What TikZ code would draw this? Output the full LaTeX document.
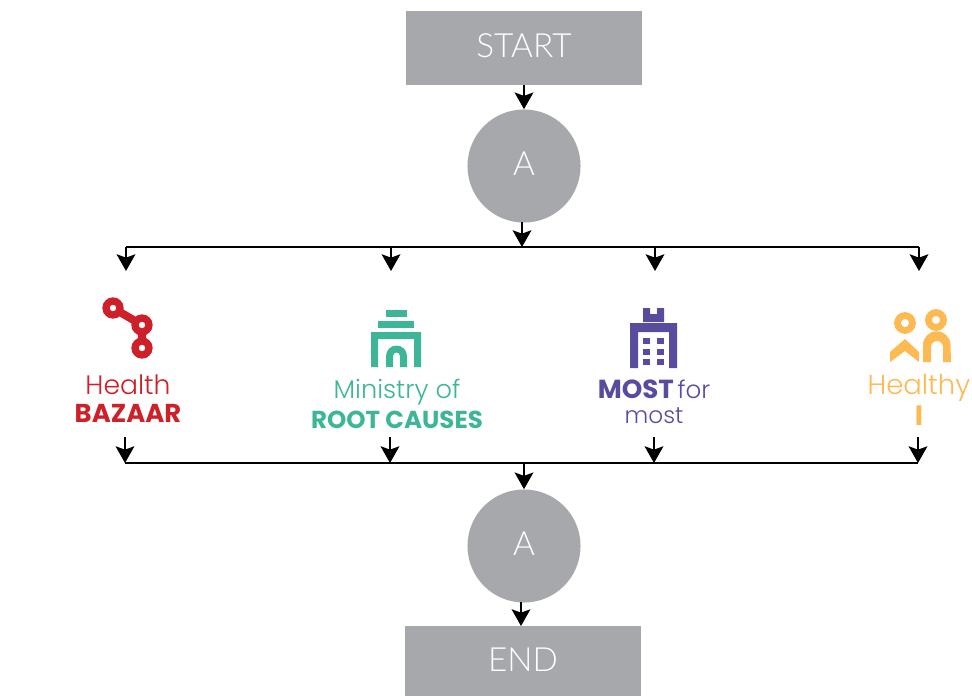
\documentclass[tikz,border=0pt]{standalone}
\usepackage{fontspec}
\usetikzlibrary{arrows.meta}
\setmainfont{Liberation Sans}
\newfontfamily\logofont{Poppins Light}[BoldFont=Poppins Bold]
\newfontfamily\boxfont{Lato Light}
\definecolor{boxgray}{HTML}{A7A8AB}
\definecolor{bazaarred}{HTML}{CE2029}
\definecolor{rootteal}{HTML}{3DB698}
\definecolor{mostpurple}{HTML}{574C9E}
\definecolor{healthyyellow}{HTML}{FDBA53}
\tikzset{
  boxnode/.style={fill=boxgray,text=white,minimum width=176.5pt,inner sep=0pt,text depth=4pt,font=\boxfont\fontsize{25}{28}\selectfont},
  roundnode/.style={circle,fill=boxgray,text=white,minimum size=84.8pt,inner sep=0pt,text depth=3pt,font=\boxfont\fontsize{25}{28}\selectfont},
  flow/.style={-{Stealth[length=12.5pt,width=14pt,inset=2.5pt]},line width=1.7pt,black},
  bus/.style={line width=1.7pt,black},
  lighttext/.style={font=\logofont\fontsize{19.2}{21}\selectfont,inner sep=0pt},
  boldtext/.style={font=\logofont\bfseries\fontsize{18.4}{21}\selectfont,inner sep=0pt},
}
\begin{document}
\begin{tikzpicture}[x=0.75pt,y=-0.75pt]
        \useasboundingbox (0,0) rectangle (972,696);

        \node[boxnode,minimum height=55.5pt] (start) at (524,48) {START};
        \node[roundnode] (upper) at (524,166) {A};
        \node[roundnode] (lower) at (524,546) {A};
        \node[boxnode,minimum height=52.5pt,text depth=2pt] (finish) at (523,661) {END};

        \coordinate (busTL) at (126,247);
        \coordinate (busTR) at (919,247);
        \coordinate (busBL) at (125,463);
        \coordinate (busBR) at (918,463);
        \coordinate (busTM) at (522,247);
        \coordinate (upperOut) at (522,222);
        \coordinate (busBM) at (524,463);
        \coordinate (lowerOut) at (521,602);
        \coordinate (finishIn) at (521,626);

        \draw[bus] (busTL) -- (busTR);
        \draw[bus] (busBL) -- (busBR);
        \draw[flow] (start.south) -- (upper.north);
        \draw[flow] (upperOut) -- (busTM);
        \draw[flow] (busBM) -- (lower.north);
        \draw[flow] (lowerOut) -- (finishIn);

        % drops from the top line, arrows into the bottom line
        \foreach \n/\x in {1/126,2/391,3/655,4/919}{
                \coordinate (top\n) at (\x,247);
                \coordinate (drop\n) at (\x,271);
                \draw[flow] (top\n) -- (drop\n);
                \coordinate (rise\n) at (\x-1,437);
                \coordinate (bot\n) at (\x-1,463);
                \draw[flow] (rise\n) -- (bot\n);
        }

        % Health BAZAAR
        \coordinate (hbA) at (113,308);
        \coordinate (hbB) at (142,325);
        \coordinate (hbC) at (142,348);
        \draw[bazaarred,line width=6pt] (hbA) -- (hbB) -- (hbC);
        \foreach \P in {hbA,hbB,hbC}{
                \fill[bazaarred] (\P) circle (8pt);
                \fill[white] (\P) circle (2.4pt);
        }
        \node[lighttext,text=bazaarred,font=\logofont\fontsize{20}{21}\selectfont] (health) at (128,385) {Health};
        \node[boldtext,text=bazaarred,font=\logofont\bfseries\fontsize{19.4}{21}\selectfont] (bazaar) at (128,413) {BAZAAR};

        % Ministry of ROOT CAUSES
        \fill[rootteal] (386,310) rectangle (407,317);
        \fill[rootteal] (378,321) rectangle (414,328);
        \fill[rootteal] (371,332) -- (421,332) -- (421,367) -- (414,367) -- (414,339) -- (378,339) -- (378,367) -- (371,367) -- cycle;
        \fill[rootteal] (386,367) -- (386,356) arc (180:360:10.5) -- (407,367) -- (400,367) -- (400,356) arc (360:180:3.5) -- (393,367) -- cycle;
        \node[lighttext,text=rootteal] (ministry) at (397,392) {Ministry of};
        \node[boldtext,text=rootteal] (root) at (397,420) {ROOT CAUSES};

        % MOST for most
        \fill[mostpurple] (643,308) -- (650,308) -- (650,314) -- (657,314) -- (657,308) -- (664,308) -- (664,322) -- (643,322) -- cycle;
        \fill[mostpurple] (630,323) -- (677,323) -- (677,368) -- (669,368) -- (669,332) -- (638,332) -- (638,368) -- (630,368) -- cycle;
        \foreach \wy in {338,349,359}{
                \fill[mostpurple] (643,\wy) rectangle (650,\wy+6);
                \fill[mostpurple] (657,\wy) rectangle (664,\wy+6);
        }
        \node[inner sep=0pt,text=mostpurple] (most) at (654,389) {{\logofont\bfseries\fontsize{19.6}{21}\selectfont MOST} {\logofont\fontsize{18.4}{21}\selectfont for}};
        \node[lighttext,text=mostpurple,font=\logofont\fontsize{17.4}{21}\selectfont] (mostb) at (654,416) {most};

        % Healthy I
        \coordinate (hiA) at (905,323);
        \coordinate (hiB) at (936,320);
        \foreach \P in {hiA,hiB}{
                \fill[healthyyellow] (\P) circle (8.2pt);
                \fill[white] (\P) circle (3pt);
        }
        \fill[healthyyellow] (890,362) -- (890,352) -- (905,339) -- (919,352) -- (919,362) -- (905,351) -- cycle;
        \fill[healthyyellow] (923,362) -- (923,345) arc (180:360:13.75) -- (951,362) -- (943,362) -- (943,347) arc (360:180:6) -- (931,362) -- cycle;
        \node[lighttext,text=healthyyellow,font=\logofont\fontsize{20.6}{21}\selectfont] (healthy) at (919,388) {Healthy};
        \node[boldtext,text=healthyyellow,font=\logofont\bfseries\fontsize{21}{21}\selectfont] (healthyI) at (919,416) {I};

\end{tikzpicture}
\end{document}
